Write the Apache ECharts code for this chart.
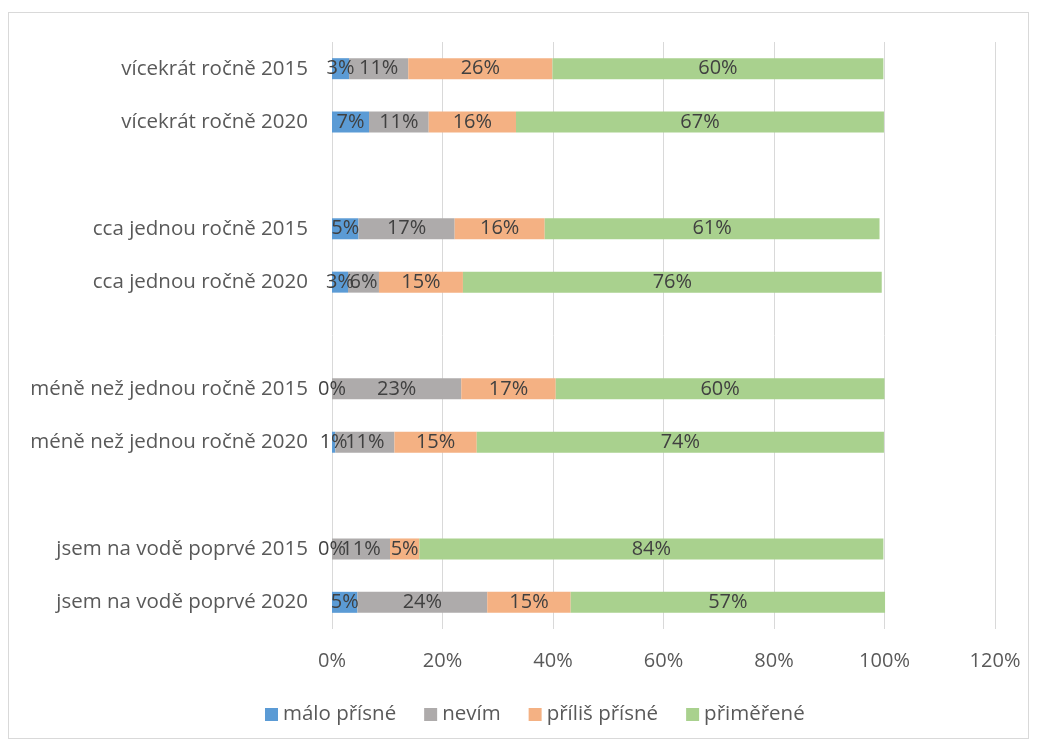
<!DOCTYPE html>
<html>
<head>
<meta charset="utf-8">
<script src="https://cdn.jsdelivr.net/npm/echarts@6/dist/echarts.min.js"></script>
<style>
  html, body { margin: 0; padding: 0; background: #fff; }
  #frame { position: absolute; left: 8px; top: 12px; width: 1021px; height: 727px; border: 1px solid #d9d9d9; box-sizing: border-box; }
  #chart { position: absolute; left: 0; top: 0; width: 1039px; height: 744px; }
</style>
</head>
<body>
<div id="frame"></div>
<div id="chart"></div>
<script>
// categories top to bottom (blank entries are the gaps between groups)
const categories = [
  'vícekrát ročně 2015', 'vícekrát ročně 2020', ' ',
  'cca jednou ročně 2015', 'cca jednou ročně 2020', '  ',
  'méně než jednou ročně 2015', 'méně než jednou ročně 2020', '   ',
  'jsem na vodě poprvé 2015', 'jsem na vodě poprvé 2020'
];
const seriesNames = ['málo přísné', 'nevím', 'příliš přísné', 'přiměřené'];
const maloPrisne = [3.1, 6.7, '-', 4.8, 2.9, '-', 0, 0.6, '-', 0, 4.6];
const nevim      = [10.7, 10.8, '-', 17.4, 5.6, '-', 23.4, 10.7, '-', 10.5, 23.5];
const priliPrisne = [26.1, 15.8, '-', 16.3, 15.2, '-', 17.1, 14.9, '-', 5.3, 15.1];
const primerene  = [59.9, 66.6, '-', 60.6, 75.8, '-', 59.5, 73.7, '-', 84.0, 56.9];
const xTicks = [0, 20, 40, 60, 80, 100, 120];

const colors = ['#5B9BD5', '#AEABAB', '#F4B183', '#A9D18E'];
const font = '"Open Sans", Lato, sans-serif';

const chart = echarts.init(document.getElementById('chart'));
const values = [maloPrisne, nevim, priliPrisne, primerene];

const series = seriesNames.map((name, i) => ({
  name: name,
  type: 'bar',
  stack: 'total',
  barWidth: 21,
  data: values[i],
  itemStyle: { color: colors[i] },
  label: {
    show: true,
    position: 'inside',
    color: '#404040',
    fontFamily: font,
    fontSize: 20,
    formatter: (p) => Math.round(p.value) + '%'
  },
  emphasis: { disabled: true }
}));

chart.setOption({
  animation: false,
  backgroundColor: 'transparent',
  grid: { left: 332, right: 44, top: 42, bottom: 115, containLabel: false },
  legend: {
    bottom: 14,
    left: 260,
    itemWidth: 13,
    itemHeight: 13,
    itemGap: 28,
    icon: 'rect',
    textStyle: { color: '#595959', fontFamily: font, fontSize: 20.5 },
    data: seriesNames
  },
  xAxis: {
    type: 'value',
    min: 0,
    max: 120,
    interval: 20,
    axisLine: { show: false },
    axisTick: { show: false },
    axisLabel: {
      color: '#595959',
      fontFamily: font,
      fontSize: 20,
      margin: 22,
      formatter: (v) => xTicks.includes(v) ? v + '%' : ''
    },
    splitLine: { show: true, lineStyle: { color: '#d9d9d9', width: 1 } }
  },
  yAxis: {
    type: 'category',
    inverse: true,
    data: categories,
    axisLine: { show: false },
    axisTick: { show: false },
    axisLabel: { color: '#595959', fontFamily: font, fontSize: 20.5, margin: 24 }
  },
  series: series
});
</script>
</body>
</html>
